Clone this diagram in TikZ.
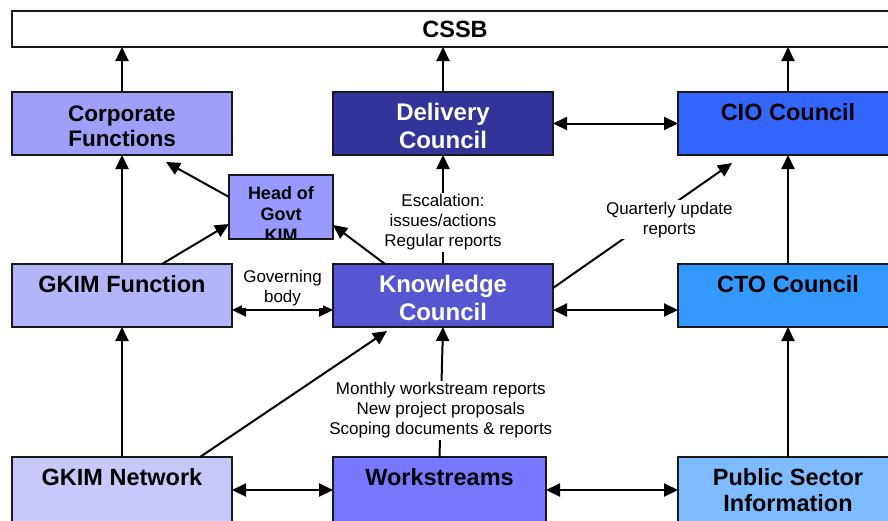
\documentclass[tikz,border=0pt]{standalone}
\usepackage{fontspec}
\setmainfont{Liberation Sans}
\usetikzlibrary{arrows.meta}

\definecolor{corpcol}{HTML}{9F9FFA}
\definecolor{delivcol}{HTML}{333399}
\definecolor{ciocol}{HTML}{3366FF}
\definecolor{hogcol}{HTML}{9999FF}
\definecolor{gkimfcol}{HTML}{B4B4F8}
\definecolor{knowcol}{HTML}{5656D2}
\definecolor{ctocol}{HTML}{3399FF}
\definecolor{gnetcol}{HTML}{C8C8FA}
\definecolor{workcol}{HTML}{7777FF}
\definecolor{psicol}{HTML}{7EBCFF}

\tikzset{
  box/.style={draw=black!90,line width=1.8pt,inner sep=0pt,outer sep=0pt,
    anchor=north west,minimum width=220pt,minimum height=63pt,
    text height=28pt,text depth=35pt,align=center,
    font=\fontsize{23.5}{26.5}\selectfont\bfseries},
  twoline/.style={text height=54.5pt,text depth=8.5pt},
  bigtwo/.style={text height=56pt,text depth=7pt,text=white,
    font=\fontsize{24}{28}\selectfont\bfseries},
  lastrow/.style={minimum height=66pt,text depth=38pt},
  link/.style={line width=2pt,-{Triangle[length=14pt,width=13pt]}},
  twoway/.style={line width=2pt,
    {Triangle[length=14pt,width=13pt]}-{Triangle[length=14pt,width=13pt]}},
  note/.style={fill=white,inner sep=1.5pt,align=center,
    font=\fontsize{17}{20}\selectfont}
}

\begin{document}
\begin{tikzpicture}[x=1pt,y=-1pt]
  \useasboundingbox (0,0) rectangle (888,520);
  \clip (0,0) rectangle (888,520);
  \fill[white] (0,0) rectangle (888,520);

  % board at the top
  \node[box,fill=white,minimum width=886pt,minimum height=36pt,
        text height=26pt,text depth=10pt] (cssb) at (12,11) {CSSB};

  % first row
  \node[box,twoline,fill=corpcol,font=\fontsize{22.5}{25.5}\selectfont\bfseries]
        (corp) at (12,92) {Corporate\\Functions};
  \node[box,bigtwo,fill=delivcol] (deliv) at (333,92) {Delivery\\Council};
  \node[box,fill=ciocol] (cio) at (678,92) {CIO Council};

  % head of govt, text cut by the box
  \node[box,fill=hogcol,minimum width=104pt,minimum height=64pt,
        path picture={
          \node[anchor=north,inner sep=0pt,align=center,text height=60pt,
                font=\fontsize{18}{21}\selectfont\bfseries]
                (hogtext) at ([yshift=-6pt]path picture bounding box.north)
                {Head of\\Govt\\KIM};
        }] (hog) at (229,175) {};

  % second row
  \node[box,fill=gkimfcol] (gkimf) at (12,264) {GKIM Function};
  \node[box,bigtwo,fill=knowcol] (know) at (333,264) {Knowledge\\Council};
  \node[box,fill=ctocol] (cto) at (678,264) {CTO Council};

  % third row
  \node[box,lastrow,fill=gnetcol] (gnet) at (12,457) {GKIM Network};
  \node[box,lastrow,fill=workcol,minimum width=213pt] (work) at (333,457) {Workstreams};
  \node[box,lastrow,twoline,text depth=11.5pt,fill=psicol] (psi) at (678,457)
        {Public Sector\\Information};

  % up to the board
  \draw[link] (corp.north) -- (corp.north |- cssb.south);
  \draw[link] (deliv.north) -- (deliv.north |- cssb.south);
  \draw[link] (cio.north) -- (cio.north |- cssb.south);
  \draw[twoway] (deliv.east) -- (cio.west);

  % around head of govt
  \draw[link] ([xshift=-70pt]gkimf.north east) -- ([yshift=-17pt]hog.west);
  \draw[link] ([yshift=10pt]hog.west) -- ([xshift=-66pt,yshift=-7pt]corp.south east);
  \draw[link] ([xshift=52pt]know.north west) -- ([yshift=-18pt]hog.east);

  % second row links
  \draw[link] (gkimf.north) -- (corp.south);
  \draw[link] (know.north) -- node[note,pos=0.38]
        {Escalation:\\issues/actions\\Regular reports} (deliv.south);
  \draw[link] ([yshift=7.5pt]know.east) -- node[note,pos=0.65,yshift=-13pt]
        {Quarterly update\\reports} ([xshift=54pt,yshift=-8pt]cio.south west);
  \draw[link] (cto.north) -- (cio.south);
  \draw[twoway] ([yshift=-14.5pt]gkimf.east) -- node[note,above=1pt,midway]
        {Governing\\body} ([yshift=-14.5pt]know.west);
  \draw[twoway] ([yshift=-14.5pt]know.east) -- ([yshift=-14.5pt]cto.west);

  % third row links
  \draw[link] (gnet.north) -- (gkimf.south);
  \draw[link] ([xshift=-32pt]gnet.north east) -- ([xshift=54pt,yshift=-4pt]know.south west);
  \draw[link] (work.north) -- node[note,pos=0.36]
        {Monthly workstream reports\\New project proposals\\Scoping documents \& reports} (know.south);
  \draw[link] (psi.north) -- (cto.south);
  \draw[twoway] (gnet.east) -- (work.west);
  \draw[twoway] (work.east) -- (psi.west);
\end{tikzpicture}
\end{document}
